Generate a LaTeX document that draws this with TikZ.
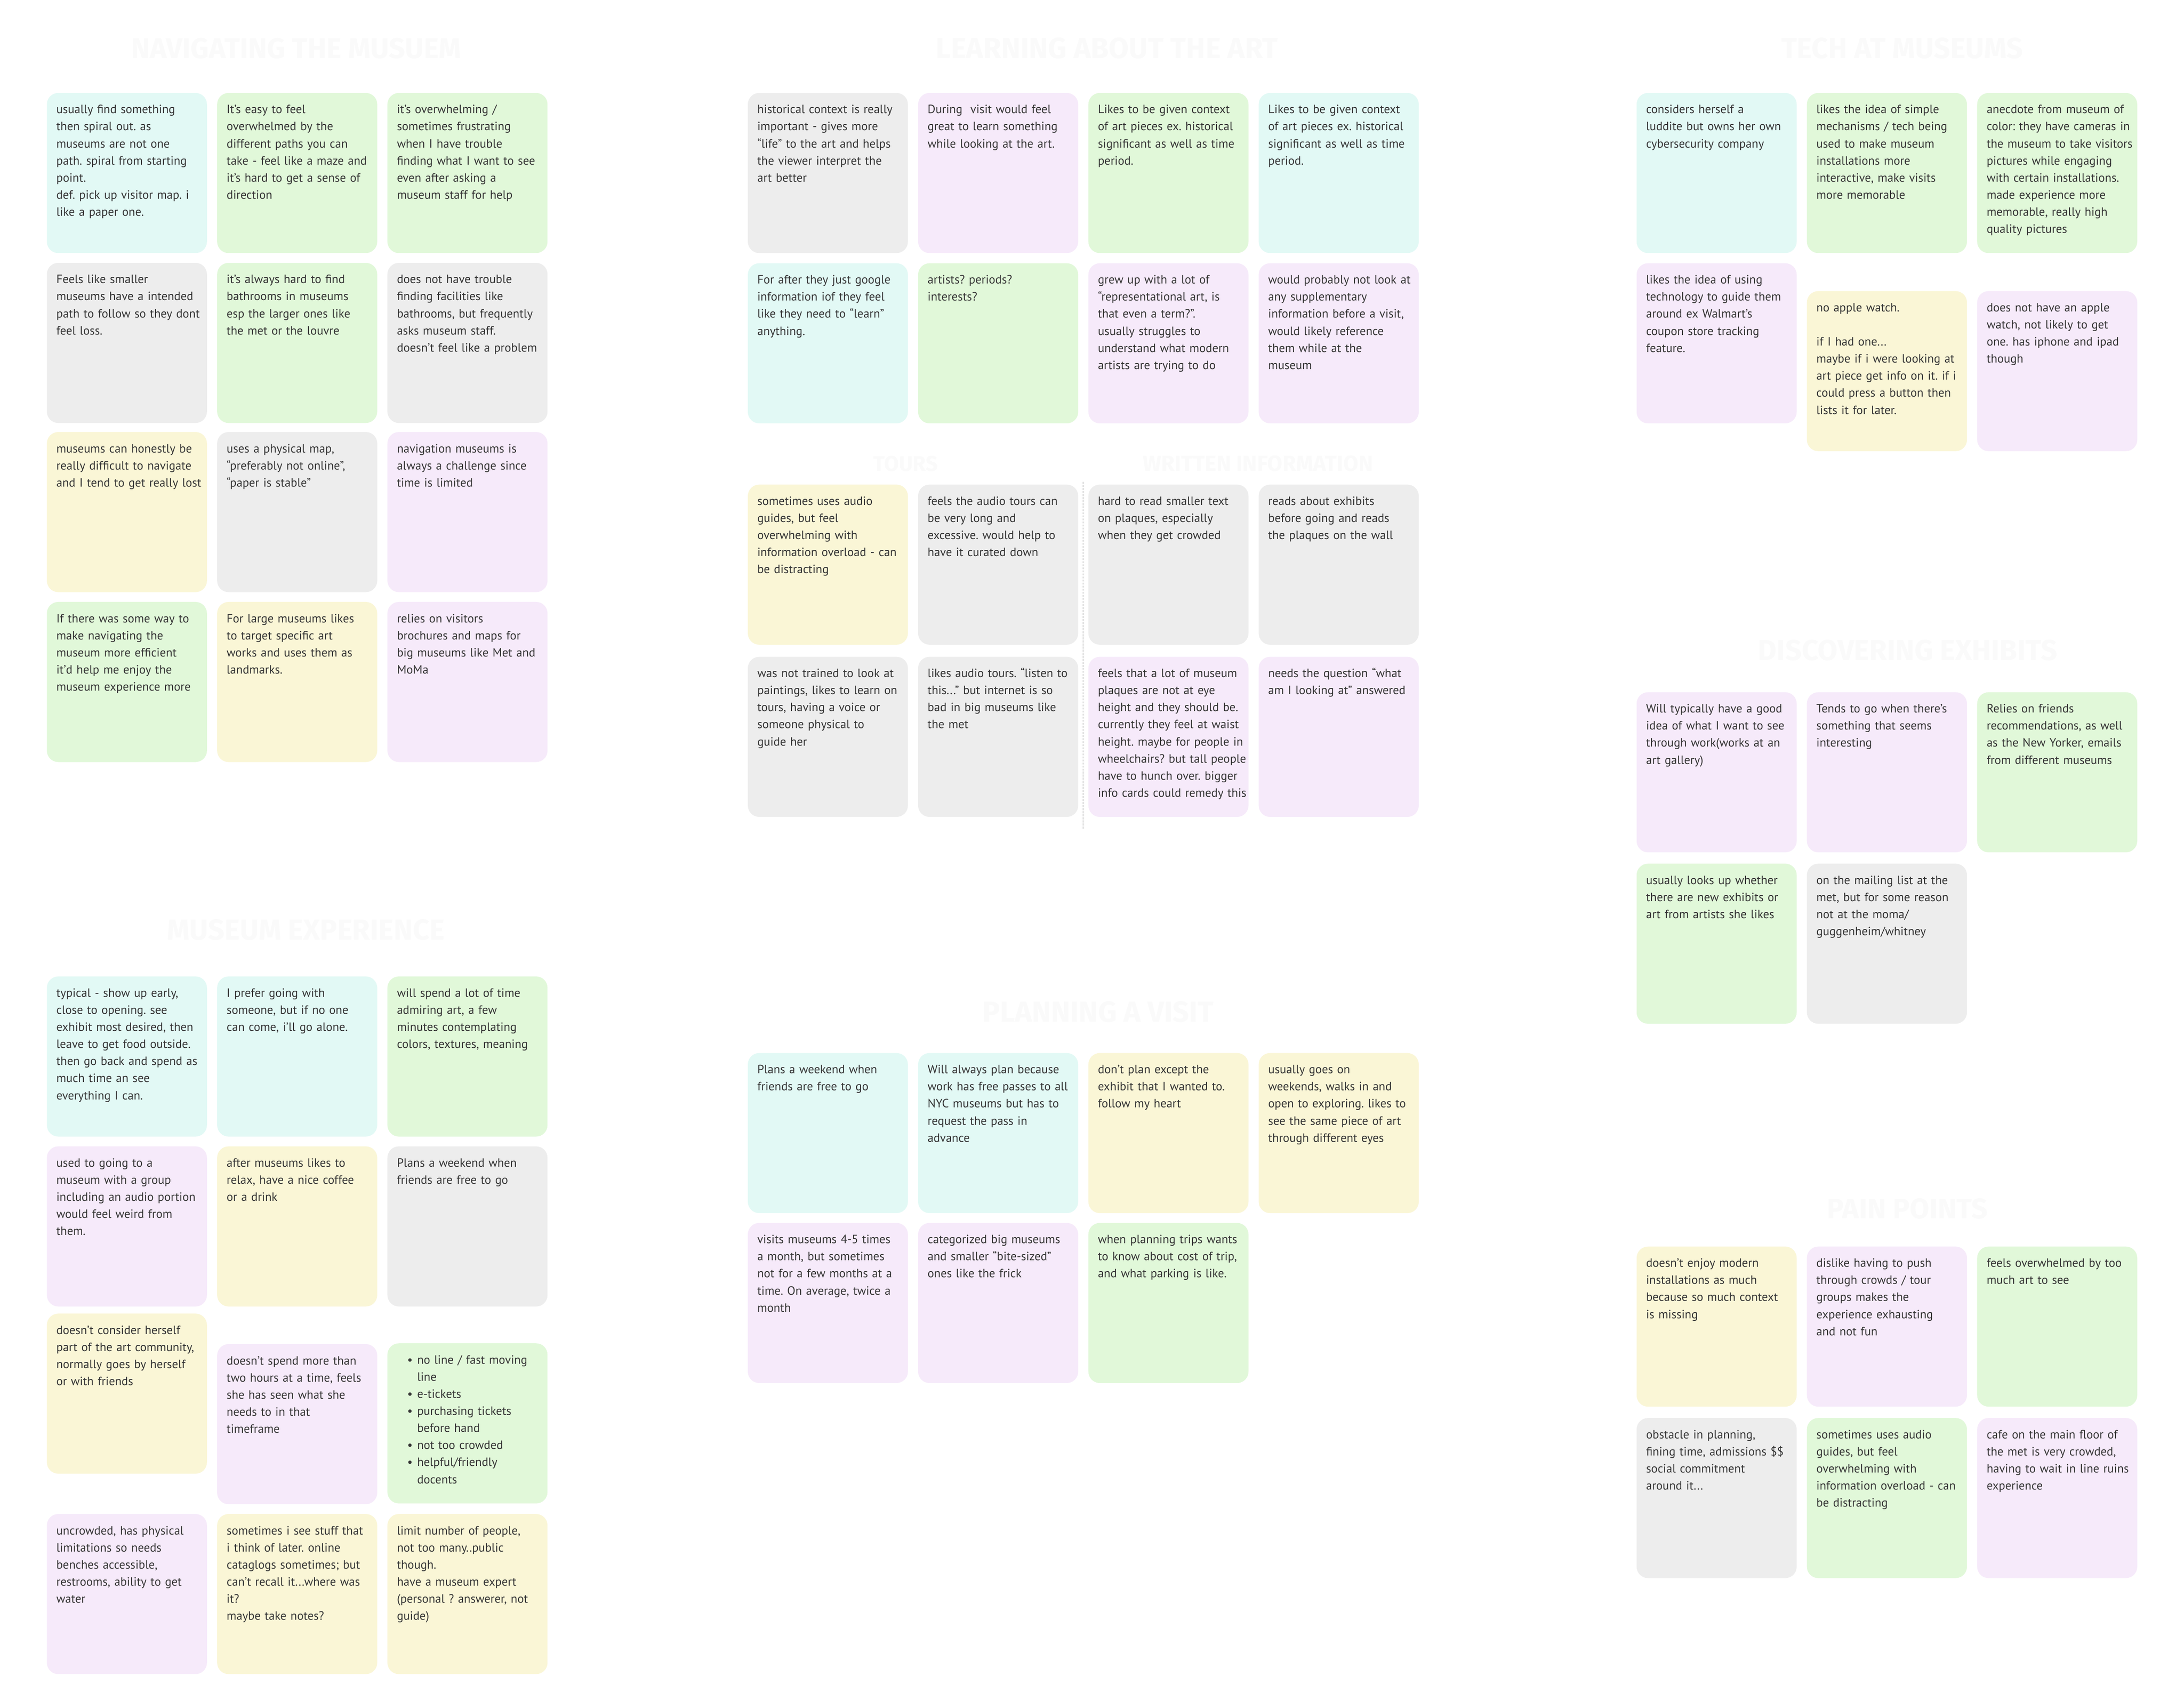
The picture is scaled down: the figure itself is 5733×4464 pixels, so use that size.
\documentclass[tikz,border=0pt]{standalone}
\usepackage{fontspec}
\usepackage{graphicx}
\setmainfont{PT Sans}
\newfontfamily\hdrfont{Fira Sans}
\frenchspacing
\definecolor{ccyan}{HTML}{E2F9F5}
\definecolor{cgreen}{HTML}{E1F8D9}
\definecolor{cgray}{HTML}{EDEDED}
\definecolor{cpurple}{HTML}{F6EAFA}
\definecolor{cyellow}{HTML}{FAF6D6}
\definecolor{ctext}{HTML}{363636}
\definecolor{chdr}{HTML}{FAFAFA}
\definecolor{cline}{HTML}{A0A0A0}
\tikzset{
  cardbox/.style={anchor=north west, minimum width=4.2cm, minimum height=4.2cm,
    rounded corners=0.3cm, inner sep=0pt, outer sep=0pt, draw=none},
  cardtext/.style={anchor=north west, inner sep=0pt, outer sep=0pt, align=left,
    text width=4.6cm, text=ctext, font=\fontsize{9.0pt}{12.75pt}\selectfont},
  hdr/.style={anchor=base west, inner sep=0pt, outer sep=0pt, text=chdr,
    font=\hdrfont\bfseries},
  divider/.style={draw=cline, line width=0.02cm, dash pattern=on 0.05cm off 0.03cm}
}
\newcommand\mycard[5]{%
  \node[cardbox, fill=#4] (#1) at (#2,#3) {};
  \node[cardtext] (#1t) at ({#2+25},{#3+22.6}) {\strut #5};
}
\newcommand\bl[1]{\hspace*{0.27cm}\makebox[0.26cm][l]{•}#1}
\newcommand\bc[1]{\hspace*{0.53cm}#1}
\begin{document}
\begin{tikzpicture}[x=0.01cm,y=-0.01cm]
\useasboundingbox (0,0) rectangle (5733,4464);
\fill[white] (0,0) rectangle (5733,4464);

% ---------- headers ----------
\node[hdr] (h1) at (344,153) {\resizebox{8.66cm}{!}{NAVIGATING THE MUSUEM}};
\node[hdr] (h2) at (2457,153) {\resizebox{8.97cm}{!}{LEARNING ABOUT THE ART}};
\node[hdr] (h3) at (4676,153) {\resizebox{6.34cm}{!}{TECH AT MUSEUMS}};
\node[hdr] (h4) at (2293,1237) {\resizebox{1.69cm}{!}{TOURS}};
\node[hdr] (h5) at (3000,1237) {\resizebox{6.04cm}{!}{WRITTEN INFORMATION}};
\node[hdr] (h6) at (4615,1733) {\resizebox{7.85cm}{!}{DISCOVERING EXHIBITS}};
\node[hdr] (h7) at (4796,3198) {\resizebox{4.21cm}{!}{PAIN POINTS}};
\node[hdr] (h8) at (438,2467) {\resizebox{7.29cm}{!}{MUSEUM EXPERIENCE}};
\node[hdr] (h9) at (2579,2683) {\resizebox{6.06cm}{!}{PLANNING A VISIT}};

% ---------- Navigating the museum ----------
\mycard{na1}{123}{244}{ccyan}{usually find something\\then spiral out. as\\museums are not one\\path. spiral from starting\\point.\\def. pick up visitor map. i\\like a paper one.}
\mycard{na2}{570}{244}{cgreen}{It's easy to feel\\overwhelmed by the\\different paths you can\\take - feel like a maze and\\it's hard to get a sense of\\direction}
\mycard{na3}{1017}{244}{cgreen}{it's overwhelming /\\sometimes frustrating\\when I have trouble\\finding what I want to see\\even after asking a\\museum staff for help}
\mycard{nb1}{123}{690}{cgray}{Feels like smaller\\museums have a intended\\path to follow so they dont\\feel loss.}
\mycard{nb2}{570}{690}{cgreen}{it's always hard to find\\bathrooms in museums\\esp the larger ones like\\the met or the louvre}
\mycard{nb3}{1017}{690}{cgray}{does not have trouble\\finding facilities like\\bathrooms, but frequently\\asks museum staff.\\doesn't feel like a problem}
\mycard{nc1}{123}{1134}{cyellow}{museums can honestly be\\really difficult to navigate\\and I tend to get really lost}
\mycard{nc2}{570}{1134}{cgray}{uses a physical map,\\“preferably not online”,\\“paper is stable”}
\mycard{nc3}{1017}{1134}{cpurple}{navigation museums is\\always a challenge since\\time is limited}
\mycard{nd1}{123}{1580}{cgreen}{If there was some way to\\make navigating the\\museum more efficient\\it'd help me enjoy the\\museum experience more}
\mycard{nd2}{570}{1580}{cyellow}{For large museums likes\\to target specific art\\works and uses them as\\landmarks.}
\mycard{nd3}{1017}{1580}{cpurple}{relies on visitors\\brochures and maps for\\big museums like Met and\\MoMa}

% ---------- Learning about the art ----------
\mycard{la1}{1963}{244}{cgray}{historical context is really\\important - gives more\\“life” to the art and helps\\the viewer interpret the\\art better}
\mycard{la2}{2410}{244}{cpurple}{During\ \ visit would feel\\great to learn something\\while looking at the art.}
\mycard{la3}{2857}{244}{cgreen}{Likes to be given context\\of art pieces ex. historical\\significant as well as time\\period.}
\mycard{la4}{3304}{244}{ccyan}{Likes to be given context\\of art pieces ex. historical\\significant as well as time\\period.}
\mycard{lb1}{1963}{691}{ccyan}{For after they just google\\information iof they feel\\like they need to “learn”\\anything.}
\mycard{lb2}{2410}{691}{cgreen}{artists? periods?\\interests?}
\mycard{lb3}{2857}{691}{cpurple}{grew up with a lot of\\“representational art, is\\that even a term?”.\\usually struggles to\\understand what modern\\artists are trying to do}
\mycard{lb4}{3304}{691}{cpurple}{would probably not look at\\any supplementary\\information before a visit,\\would likely reference\\them while at the\\museum}

% ---------- Tours / written information ----------
\mycard{ta1}{1963}{1272}{cyellow}{sometimes uses audio\\guides, but feel\\overwhelming with\\information overload - can\\be distracting}
\mycard{ta2}{2410}{1272}{cgray}{feels the audio tours can\\be very long and\\excessive. would help to\\have it curated down}
\mycard{wa1}{2857}{1272}{cgray}{hard to read smaller text\\on plaques, especially\\when they get crowded}
\mycard{wa2}{3304}{1272}{cgray}{reads about exhibits\\before going and reads\\the plaques on the wall}
\mycard{tb1}{1963}{1724}{cgray}{was not trained to look at\\paintings, likes to learn on\\tours, having a voice or\\someone physical to\\guide her}
\mycard{tb2}{2410}{1724}{cgray}{likes audio tours. “listen to\\this...” but internet is so\\bad in big museums like\\the met}
\mycard{wb1}{2857}{1724}{cpurple}{feels that a lot of museum\\plaques are not at eye\\height and they should be.\\currently they feel at waist\\height. maybe for people in\\wheelchairs? but tall people\\have to hunch over. bigger\\info cards could remedy this}
\mycard{wb2}{3304}{1724}{cpurple}{needs the question “what\\am I looking at” answered}
\coordinate (dv1) at (2843,1265);
\coordinate (dv2) at (2843,2175);
\draw[divider] (dv1) -- (dv2);

% ---------- Tech at museums ----------
\mycard{te1}{4296}{244}{ccyan}{considers herself a\\luddite but owns her own\\cybersecurity company}
\mycard{te2}{4743}{244}{cgreen}{likes the idea of simple\\mechanisms / tech being\\used to make museum\\installations more\\interactive, make visits\\more memorable}
\mycard{te3}{5190}{244}{cgreen}{anecdote from museum of\\color: they have cameras in\\the museum to take visitors\\pictures while engaging\\with certain installations.\\made experience more\\memorable, really high\\quality pictures}
\mycard{te4}{4296}{691}{cpurple}{likes the idea of using\\technology to guide them\\around ex Walmart's\\coupon store tracking\\feature.}
\mycard{te5}{4743}{764}{cyellow}{no apple watch.\\[12.75pt]if I had one...\\maybe if i were looking at\\art piece get info on it. if i\\could press a button then\\lists it for later.}
\mycard{te6}{5190}{764}{cpurple}{does not have an apple\\watch, not likely to get\\one. has iphone and ipad\\though}

% ---------- Discovering exhibits ----------
\mycard{de1}{4296}{1817}{cpurple}{Will typically have a good\\idea of what I want to see\\through work(works at an\\art gallery)}
\mycard{de2}{4743}{1817}{cpurple}{Tends to go when there's\\something that seems\\interesting}
\mycard{de3}{5190}{1817}{cgreen}{Relies on friends\\recommendations, as well\\as the New Yorker, emails\\from different museums}
\mycard{de4}{4296}{2267}{cgreen}{usually looks up whether\\there are new exhibits or\\art from artists she likes}
\mycard{de5}{4743}{2267}{cgray}{on the mailing list at the\\met, but for some reason\\not at the moma/\\guggenheim/whitney}

% ---------- Pain points ----------
\mycard{pp1}{4296}{3272}{cyellow}{doesn't enjoy modern\\installations as much\\because so much context\\is missing}
\mycard{pp2}{4743}{3272}{cpurple}{dislike having to push\\through crowds / tour\\groups makes the\\experience exhausting\\and not fun}
\mycard{pp3}{5190}{3272}{cgreen}{feels overwhelmed by too\\much art to see}
\mycard{pp4}{4296}{3722}{cgray}{obstacle in planning,\\fining time, admissions \$\$\\social commitment\\around it...}
\mycard{pp5}{4743}{3722}{cgreen}{sometimes uses audio\\guides, but feel\\overwhelming with\\information overload - can\\be distracting}
\mycard{pp6}{5190}{3722}{cpurple}{cafe on the main floor of\\the met is very crowded,\\having to wait in line ruins\\experience}

% ---------- Museum experience ----------
\mycard{me1}{123}{2563}{ccyan}{typical - show up early,\\close to opening. see\\exhibit most desired, then\\leave to get food outside.\\then go back and spend as\\much time an see\\everything I can.}
\mycard{me2}{570}{2563}{ccyan}{I prefer going with\\someone, but if no one\\can come, i'll go alone.}
\mycard{me3}{1017}{2563}{cgreen}{will spend a lot of time\\admiring art, a few\\minutes contemplating\\colors, textures, meaning}
\mycard{me4}{123}{3009}{cpurple}{used to going to a\\museum with a group\\including an audio portion\\would feel weird from\\them.}
\mycard{me5}{570}{3009}{cyellow}{after museums likes to\\relax, have a nice coffee\\or a drink}
\mycard{me6}{1017}{3009}{cgray}{Plans a weekend when\\friends are free to go}
\mycard{me7}{123}{3448}{cyellow}{doesn't consider herself\\part of the art community,\\normally goes by herself\\or with friends}
\mycard{me8}{570}{3528}{cpurple}{doesn't spend more than\\two hours at a time, feels\\she has seen what she\\needs to in that\\timeframe}
\mycard{me9}{1017}{3526}{cgreen}{\bl{no line / fast moving}\\\bc{line}\\\bl{e-tickets}\\\bl{purchasing tickets}\\\bc{before hand}\\\bl{not too crowded}\\\bl{helpful/friendly}\\\bc{docents}}
\mycard{me10}{123}{3974}{cpurple}{uncrowded, has physical\\limitations so needs\\benches accessible,\\restrooms, ability to get\\water}
\mycard{me11}{570}{3974}{cyellow}{sometimes i see stuff that\\i think of later. online\\cataglogs sometimes; but\\can't recall it...where was\\it?\\maybe take notes?}
\mycard{me12}{1017}{3974}{cyellow}{limit number of people,\\not too many..public\\though.\\have a museum expert\\(personal ? answerer, not\\guide)}

% ---------- Planning a visit ----------
\mycard{pv1}{1963}{2764}{ccyan}{Plans a weekend when\\friends are free to go}
\mycard{pv2}{2410}{2764}{ccyan}{Will always plan because\\work has free passes to all\\NYC museums but has to\\request the pass in\\advance}
\mycard{pv3}{2857}{2764}{cyellow}{don't plan except the\\exhibit that I wanted to.\\follow my heart}
\mycard{pv4}{3304}{2764}{cyellow}{usually goes on\\weekends, walks in and\\open to exploring. likes to\\see the same piece of art\\through different eyes}
\mycard{pv5}{1963}{3210}{cpurple}{visits museums 4-5 times\\a month, but sometimes\\not for a few months at a\\time. On average, twice a\\month}
\mycard{pv6}{2410}{3210}{cpurple}{categorized big museums\\and smaller “bite-sized”\\ones like the frick}
\mycard{pv7}{2857}{3210}{cgreen}{when planning trips wants\\to know about cost of trip,\\and what parking is like.}
\end{tikzpicture}
\end{document}
